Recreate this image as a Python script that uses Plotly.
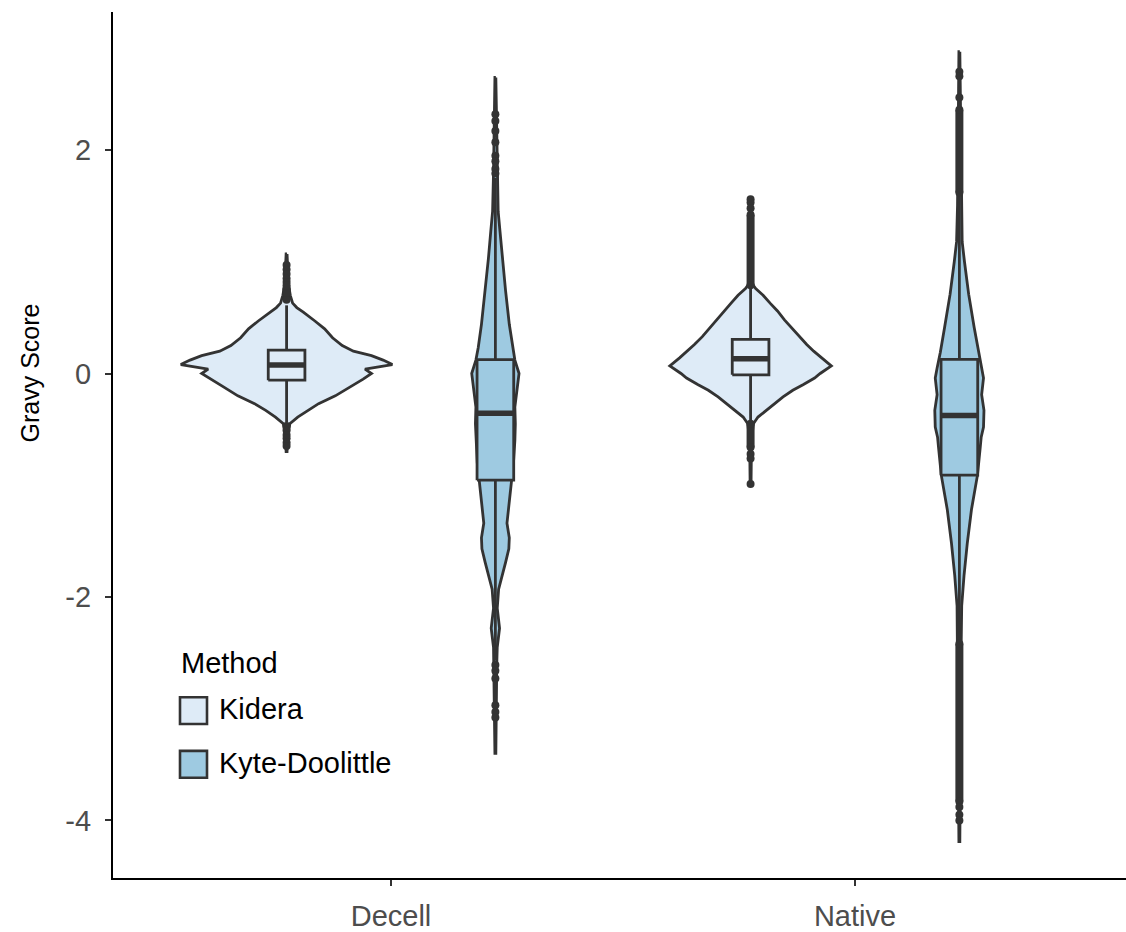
import plotly.graph_objects as go

# ---- data -----------------------------------------------------------------
categories = ["Decell", "Native"]
methods = ["Kidera", "Kyte-Doolittle"]
method_fill = {"Kidera": "#deebf7", "Kyte-Doolittle": "#9ecae1"}

y_ticks = [-4, -2, 0, 2]
y_tick_text = ["-4", "-2", "0", "2"]

# violin outlines: y values (top -> bottom) and density half-widths in x units
dec_kid_y = [1.07, 0.95, 0.80, 0.70, 0.63, 0.59, 0.55, 0.47, 0.40, 0.32, 0.25, 0.20, 0.16,
             0.12, 0.08, 0.04, 0.00, -0.05, -0.12, -0.20, -0.27, -0.33, -0.39, -0.45,
             -0.55, -0.70]
dec_kid_w = [0.001, 0.002, 0.004, 0.008, 0.013, 0.022, 0.036, 0.061, 0.082, 0.099, 0.120,
             0.144, 0.183, 0.208, 0.228, 0.169, 0.183, 0.165, 0.136, 0.105, 0.069, 0.045,
             0.024, 0.007, 0.003, 0.001]

dec_kd_y = [2.65, 2.00, 1.80, 1.45, 1.27, 1.03, 0.74, 0.44, 0.23, 0.12, 0.00, -0.15, -0.30,
            -0.45, -0.60, -0.80, -0.95, -1.16, -1.34, -1.47, -1.57, -1.69, -1.84, -1.93,
            -2.10, -2.28, -2.45, -2.60, -3.00, -3.40]
dec_kd_w = [0.001, 0.003, 0.004, 0.006, 0.010, 0.015, 0.022, 0.030, 0.037, 0.042, 0.051,
            0.047, 0.042, 0.043, 0.042, 0.039, 0.035, 0.029, 0.025, 0.030, 0.029, 0.022,
            0.013, 0.007, 0.004, 0.009, 0.004, 0.003, 0.002, 0.001]

nat_kid_y = [1.56, 1.20, 0.80, 0.76, 0.70, 0.63, 0.56, 0.48, 0.41, 0.33, 0.26, 0.20, 0.14,
             0.068, 0.00, -0.04, -0.10, -0.15, -0.21, -0.27, -0.33, -0.39, -0.45, -0.60,
             -0.99]
nat_kid_w = [0.001, 0.002, 0.004, 0.011, 0.027, 0.042, 0.058, 0.073, 0.088, 0.104, 0.121,
             0.136, 0.153, 0.174, 0.150, 0.138, 0.113, 0.091, 0.070, 0.052, 0.033, 0.016,
             0.006, 0.002, 0.001]

nat_kd_y = [2.88, 2.00, 1.50, 1.18, 1.00, 0.71, 0.41, 0.19, 0.05, -0.04, -0.19, -0.33,
            -0.48, -0.57, -0.66, -0.91, -1.22, -1.52, -1.81, -2.08, -2.40, -3.00, -3.80,
            -4.19]
nat_kd_w = [0.001, 0.003, 0.004, 0.006, 0.011, 0.020, 0.032, 0.041, 0.048, 0.052, 0.048,
            0.053, 0.052, 0.047, 0.045, 0.039, 0.026, 0.017, 0.010, 0.005, 0.004, 0.003,
            0.002, 0.001]

# box statistics: q1, median, q3, lower whisker, upper whisker
dec_kid_box = [-0.06, 0.075, 0.21, -0.44, 0.61]
dec_kd_box = [-0.955, -0.355, 0.125, -2.57, 1.75]
nat_kid_box = [-0.012, 0.133, 0.305, -0.45, 0.77]
nat_kd_box = [-0.91, -0.376, 0.127, -2.42, 1.62]

# outliers: individual points and densely packed runs (from, to)
dec_kid_pts = [0.97, 0.93, 0.89, 0.85, 0.82, 0.79, 0.72, -0.47, -0.51, -0.55, -0.58,
               -0.62, -0.65]
dec_kid_runs = [(0.66, 0.76)]
dec_kd_pts = [2.32, 2.26, 2.17, 2.07, 1.95, 1.90, 1.83, 1.79,
              -2.61, -2.66, -2.73, -2.97, -3.03, -3.08]
dec_kd_runs = []
nat_kid_pts = [1.56, 1.53, 1.48, -0.72, -0.76, -0.99]
nat_kid_runs = [(0.79, 1.42), (-0.66, -0.45)]
nat_kd_pts = [2.70, 2.66, 2.47, -3.88, -3.95, -4.00]
nat_kd_runs = [(1.62, 2.36), (-3.83, -2.42)]

groups = [
    ("Decell", "Kidera", dec_kid_y, dec_kid_w, dec_kid_box, dec_kid_pts, dec_kid_runs),
    ("Decell", "Kyte-Doolittle", dec_kd_y, dec_kd_w, dec_kd_box, dec_kd_pts, dec_kd_runs),
    ("Native", "Kidera", nat_kid_y, nat_kid_w, nat_kid_box, nat_kid_pts, nat_kid_runs),
    ("Native", "Kyte-Doolittle", nat_kd_y, nat_kd_w, nat_kd_box, nat_kd_pts, nat_kd_runs),
]

# ---- drawing ----------------------------------------------------------------
INK = "#333333"
DODGE = 0.225
BOX_HW = 0.0395
LW = 2.8

fig = go.Figure()


def line(x, y, width, mode="lines"):
    fig.add_trace(go.Scatter(x=x, y=y, mode=mode, line=dict(color=INK, width=width),
                             marker=dict(color=INK, size=8),
                             hoverinfo="skip", showlegend=False))


for cat, method, vy, vw, box, pts, runs in groups:
    cx = categories.index(cat) + 1 + (-DODGE if method == methods[0] else DODGE)
    fill = method_fill[method]

    # violin outline
    xs = [cx + w for w in vw] + [cx - w for w in reversed(vw)]
    ys = list(vy) + list(reversed(vy))
    fig.add_trace(go.Scatter(x=xs + [xs[0]], y=ys + [ys[0]], mode="lines", fill="toself",
                             fillcolor=fill, line=dict(color=INK, width=LW),
                             hoverinfo="skip", showlegend=False))

    # box plot: whiskers, box, fat median
    q1, med, q3, lo, hi = box
    line([cx, cx], [q3, hi], LW)
    line([cx, cx], [q1, lo], LW)
    fig.add_trace(go.Scatter(x=[cx - BOX_HW, cx + BOX_HW, cx + BOX_HW, cx - BOX_HW, cx - BOX_HW],
                             y=[q1, q1, q3, q3, q1], mode="lines", fill="toself",
                             fillcolor=fill, line=dict(color=INK, width=LW),
                             hoverinfo="skip", showlegend=False))
    line([cx - BOX_HW, cx + BOX_HW], [med, med], 5.5)

    # outliers
    for a, b in runs:
        line([cx, cx], [a, b], 8, mode="lines+markers")
    if pts:
        fig.add_trace(go.Scatter(x=[cx] * len(pts), y=pts, mode="markers",
                                 marker=dict(color=INK, size=8),
                                 hoverinfo="skip", showlegend=False))

# ---- layout -------------------------------------------------------------------
W, H = 1126, 932
L, R, T, B = 113, 0, 12, 48
PW, PH = W - L - R, H - T - B


def px(x):
    return (x - L) / PW


def py(y):
    return (H - B - y) / PH


FONT = "Liberation Sans, Arial, sans-serif"

# legend drawn by hand in the lower left
shapes = []
annotations = [
    dict(text="Method", x=px(179), y=py(668), xref="paper", yref="paper",
         xanchor="left", yanchor="middle", showarrow=False,
         font=dict(family=FONT, size=29, color="black")),
    dict(text="Gravy Score", x=px(30), y=py(376), xref="paper", yref="paper",
         xanchor="center", yanchor="middle", textangle=-90, showarrow=False,
         font=dict(family=FONT, size=25, color="black")),
]
for i, m in enumerate(methods):
    top = 702 + i * 54
    shapes.append(dict(type="rect", xref="paper", yref="paper",
                       x0=px(180), x1=px(207), y0=py(top + 27), y1=py(top),
                       fillcolor=method_fill[m], line=dict(color=INK, width=2.6)))
    annotations.append(dict(text=m, x=px(217), y=py(top + 12), xref="paper", yref="paper",
                            xanchor="left", yanchor="middle", showarrow=False,
                            font=dict(family=FONT, size=29, color="black")))

fig.update_layout(
    width=W, height=H,
    margin=dict(l=L, r=R, t=T, b=B, pad=0),
    paper_bgcolor="white", plot_bgcolor="white",
    showlegend=False,
    shapes=shapes, annotations=annotations,
    xaxis=dict(range=[0.4009, 2.5841], tickvals=[1, 2], ticktext=categories,
               showgrid=False, zeroline=False, showline=True, linecolor="black",
               linewidth=2.2, ticks="outside", ticklen=6, tickwidth=2, tickcolor=INK,
               tickfont=dict(family=FONT, size=29, color="#4d4d4d"),
               ticklabelstandoff=5),
    yaxis=dict(range=[-4.5156, 3.2356], tickvals=y_ticks, ticktext=y_tick_text,
               showgrid=False, zeroline=False, showline=True, linecolor="black",
               linewidth=2.2, ticks="outside", ticklen=6, tickwidth=2, tickcolor=INK,
               tickfont=dict(family=FONT, size=29, color="#4d4d4d"),
               ticklabelstandoff=8),
)

fig.write_html("out.html")
